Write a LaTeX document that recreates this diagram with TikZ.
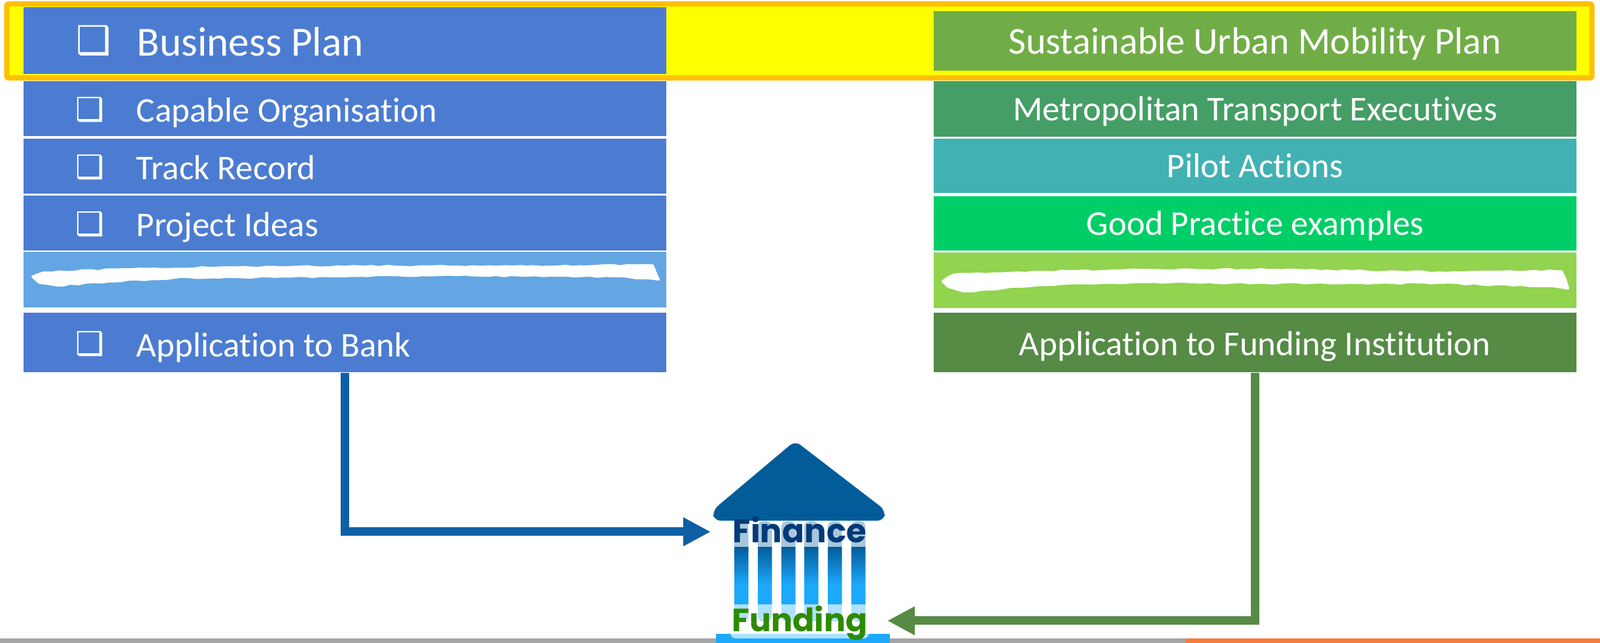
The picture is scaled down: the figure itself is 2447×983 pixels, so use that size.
\documentclass[tikz,border=0pt]{standalone}
\usepackage{fontspec}
\usepackage{xcolor}
\setmainfont{Carlito}[Ligatures=NoCommon]
\newfontfamily\bankfont{Poppins}
\newfontfamily\tickfont{DejaVu Sans}
\usetikzlibrary{arrows.meta,decorations.pathmorphing}
\definecolor{rowblue}{HTML}{4C7CD1}
\definecolor{paleblue}{HTML}{64A6E3}
\definecolor{planbar}{HTML}{70AD47}
\definecolor{metrobar}{HTML}{459E66}
\definecolor{pilotbar}{HTML}{42B1B3}
\definecolor{goodbar}{HTML}{00CE66}
\definecolor{palegreen}{HTML}{92D350}
\definecolor{appgreen}{HTML}{558B45}
\definecolor{framegold}{HTML}{FFC000}
\definecolor{frameyellow}{HTML}{FFFF00}
\definecolor{arrowblue}{HTML}{0F5FA6}
\definecolor{roofblue}{HTML}{035C9A}
\definecolor{columnsky}{HTML}{1CA9FC}
\definecolor{financeink}{HTML}{003A78}
\definecolor{fundingink}{HTML}{2E8B00}
\definecolor{bargray}{HTML}{A5A5A5}
\definecolor{barorange}{HTML}{F57B3F}
\pgfdeclareverticalshading{columnshade}{100bp}{color(0bp)=(columnsky); color(43bp)=(columnsky); color(62bp)=(roofblue); color(100bp)=(roofblue)}
\tikzset{
  leftrow/.style={rectangle, fill=rowblue, inner sep=0pt, minimum width=9.83cm},
  rightrow/.style={rectangle, inner sep=0pt, minimum width=9.83cm, text=white, text depth=0cm, text height=0.37cm, font=\fontsize{15.1}{16}\selectfont},
  ticksmall/.style={text=white, inner sep=0pt, font=\tickfont\fontsize{14}{15}\selectfont},
  ticklarge/.style={text=white, inner sep=0pt, font=\tickfont\fontsize{17}{18}\selectfont},
  rowlabel/.style={anchor=base west, text=white, inner sep=0pt, font=\fontsize{15.1}{16}\selectfont},
  brush/.style={fill=white, draw=white, line width=0.04cm, line join=round, decorate, decoration={random steps, segment length=0.12cm, amplitude=0.012cm}},
  link/.style={line width=0.13cm, -{Triangle[length=0.42cm,width=0.41cm]}}
}
\begin{document}
\begin{tikzpicture}[x=0.01cm, y=-0.01cm]
        \useasboundingbox (0,0) rectangle (2447,983);

        % Highlight frame
        \node[draw=framegold, fill=frameyellow, line width=0.08cm, rounded corners=0.03cm, inner sep=0pt, minimum width=24.23cm, minimum height=1.13cm] (frame) at (1222.5,62.5) {};

        % Left column
        \node[leftrow, minimum height=1.01cm] (bizplan) at (527.5,62) {};
        \node[leftrow, minimum height=0.84cm] (capable) at (527.5,166) {};
        \node[leftrow, minimum height=0.84cm] (track) at (527.5,254) {};
        \node[leftrow, minimum height=0.84cm] (ideas) at (527.5,341) {};
        \node[leftrow, fill=paleblue, minimum height=0.85cm] (paleleft) at (527.5,427.5) {};
        \node[leftrow, minimum height=0.91cm] (appbank) at (527.5,523.5) {};

        % Left labels
        \node[ticklarge] (tickplan) at (143,62) {❑};
        \node[ticksmall] (tickcapable) at (138,168) {❑};
        \node[ticksmall] (ticktrack) at (138,256) {❑};
        \node[ticksmall] (tickideas) at (138,343) {❑};
        \node[ticksmall] (tickbank) at (138,526) {❑};
        \node[rowlabel, font=\fontsize{18}{19}\selectfont] (textplan) at (209,86) {Business Plan};
        \node[rowlabel] (textcapable) at (208,186.5) {Capable Organisation};
        \node[rowlabel] (texttrack) at (208,274.5) {Track Record};
        \node[rowlabel] (textideas) at (208,361.5) {Project Ideas};
        \node[rowlabel] (textbank) at (208,545.5) {Application to Bank};

        % Right column
        \node[rightrow, fill=planbar, text height=0.41cm, minimum height=0.91cm, font=\fontsize{16.5}{17}\selectfont] (sump) at (1919.5,62.5) {Sustainable Urban Mobility Plan};
        \node[rightrow, fill=metrobar, minimum height=0.85cm] (metro) at (1919.5,166.5) {Metropolitan Transport Executives};
        \node[rightrow, fill=pilotbar, minimum height=0.83cm] (pilot) at (1919.5,253.5) {Pilot Actions};
        \node[rightrow, fill=goodbar, minimum height=0.83cm] (good) at (1919.5,341.5) {Good Practice examples};
        \node[rightrow, fill=palegreen, minimum height=0.85cm] (paleright) at (1919.5,428.5) {};
        \node[rightrow, fill=appgreen, text height=0.39cm, minimum height=0.91cm] (appfund) at (1919.5,523.5) {Application to Funding Institution};

        % Brush strokes
        \fill[brush] (50,423) -- (67,417) -- (201,412) -- (348,409) -- (556,408) -- (804,408) -- (998,406) -- (1007,427) -- (938,422) -- (670,420) -- (469,422) -- (268,424) -- (167,430) -- (87,436) -- (60,432) -- cycle;
        \fill[brush] (1442,430) -- (1460,420) -- (1600,416) -- (1747,413) -- (1948,413) -- (2201,417) -- (2388,415) -- (2398,441) -- (2362,437) -- (2201,432) -- (1934,432) -- (1734,431) -- (1634,433) -- (1560,438) -- (1473,445) -- (1450,438) -- cycle;

        % Bottom bar
        \fill[bargray] (0,976) rectangle (1813,983);
        \fill[barorange] (1813,976) rectangle (2447,983);

        % Bank
        \fill[roofblue, rounded corners=0.1cm] (1216,674) -- (1354,780) -- (1352,796) -- (1092,796) -- (1090,780) -- cycle;
        \foreach \colx in {1123,1159,1195,1230,1266,1302}
            \shade[shading=columnshade, rounded corners=0.08cm] (\colx,797) rectangle (\colx+21.5,950);
        \fill[columnsky] (1095,969) rectangle (1361,983);
        \fill[white, opacity=0.65, rounded corners=0.08cm] (1117,797) rectangle (1329,836);
        \fill[white, opacity=0.65, rounded corners=0.08cm] (1117,924) rectangle (1329,976);
        \node[anchor=base, inner sep=0pt, text=financeink, font=\bankfont\bfseries\fontsize{14.2}{15}\selectfont] (finance) at (1223,830) {Finance};
        \node[anchor=base, inner sep=0pt, text=fundingink, font=\bankfont\bfseries\fontsize{14}{15}\selectfont] (funding) at (1223,966) {Funding};

        % Connections
        \coordinate (finin) at (1087,813);
        \coordinate (fundin) at (1357,949);
        \draw[link, arrowblue] (appbank.south) |- (finin);
        \draw[link, appgreen] (appfund.south) |- (fundin);
\end{tikzpicture}
\end{document}
